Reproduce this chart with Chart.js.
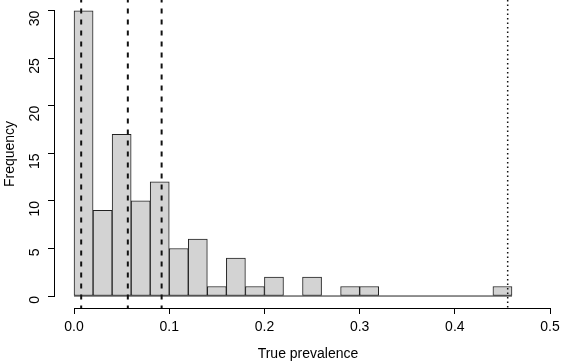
<!DOCTYPE html>
<html>
<head>
<meta charset="utf-8">
<script src="https://cdn.jsdelivr.net/npm/chart.js@4/dist/chart.umd.min.js"></script>
<style>
  html, body { margin: 0; padding: 0; background: #fff; }
  #wrap { width: 561px; height: 363px; }
</style>
</head>
<body>
<div id="wrap"><canvas id="monGraphique"></canvas></div>
<script>
// histogram of true prevalence, bins of width 0.02
const binStarts = [0, 0.02, 0.04, 0.06, 0.08, 0.10, 0.12, 0.14, 0.16, 0.18, 0.20, 0.22,
                   0.24, 0.26, 0.28, 0.30, 0.32, 0.34, 0.36, 0.38, 0.40, 0.42, 0.44];
const binWidth = 0.02;
const counts = [30, 9, 17, 10, 12, 5, 6, 1, 4, 1, 2, 0, 2, 0, 1, 1, 0, 0, 0, 0, 0, 0, 1];
const dashedLines = [0.0075, 0.0565, 0.092];
const dottedLine = 0.4555;
const xTicks = [0, 0.1, 0.2, 0.3, 0.4, 0.5];
const yTicks = [0, 5, 10, 15, 20, 25, 30];

const txt = '#000';
const font = { family: "'Liberation Sans', Arial, sans-serif", size: 14 };

const barData = binStarts.map((b, i) => ({ x: b + binWidth / 2, y: counts[i] }));
const vline = (x) => [{ x: x, y: -5 }, { x: x, y: 40 }];

// axis lines only over the tick range, like R's axis()
const axisLines = {
    id: 'axisLines',
    afterDraw(chart) {
        const c = chart.ctx, xs = chart.scales.x, ys = chart.scales.y;
        const yb = chart.chartArea.bottom, xl = chart.chartArea.left;
        c.save();
        c.strokeStyle = '#000';
        c.lineWidth = 1;
        c.beginPath();
        c.moveTo(xs.getPixelForValue(xTicks[0]), yb + 0.5);
        c.lineTo(xs.getPixelForValue(xTicks[xTicks.length - 1]), yb + 0.5);
        c.moveTo(xl - 0.5, ys.getPixelForValue(yTicks[0]));
        c.lineTo(xl - 0.5, ys.getPixelForValue(yTicks[yTicks.length - 1]));
        c.stroke();
        c.restore();
    }
};

const ctx = document.getElementById('monGraphique').getContext('2d');
new Chart(ctx, {
    type: 'bar',
    data: {
        datasets: [
            {
                type: 'bar',
                data: barData,
                backgroundColor: '#d3d3d3',
                borderColor: '#222',
                borderWidth: 1,
                borderSkipped: false,
                barPercentage: 1,
                categoryPercentage: 1,
                order: 2
            },
            {
                type: 'line',
                data: [{ x: binStarts[0], y: 0 }, { x: binStarts[binStarts.length - 1] + binWidth, y: 0 }],
                borderColor: '#222',
                borderWidth: 1,
                pointRadius: 0,
                order: 1
            },
            ...dashedLines.map(v => ({
                type: 'line',
                data: vline(v),
                borderColor: '#111',
                borderWidth: 2,
                borderDash: [5, 6],
                pointRadius: 0,
                order: 0
            })),
            {
                type: 'line',
                data: vline(dottedLine),
                borderColor: '#111',
                borderWidth: 1.5,
                borderDash: [1.5, 3],
                pointRadius: 0,
                order: 0
            }
        ]
    },
    options: {
        responsive: true,
        maintainAspectRatio: false,
        animation: false,
        layout: { padding: 0 },
        plugins: { legend: { display: false }, tooltip: { enabled: false } },
        scales: {
            x: {
                type: 'linear',
                offset: false,
                min: -0.02,
                max: 0.5115,
                afterBuildTicks: s => { s.ticks = xTicks.map(v => ({ value: v })); },
                afterFit: s => { s.height = 55; s.paddingLeft = 0; s.paddingRight = 0; },
                grid: { offset: false, drawOnChartArea: false, drawTicks: true, tickLength: 6, color: '#000', tickColor: '#000' },
                border: { display: false },
                ticks: {
                    color: txt, font: font, padding: 5, maxRotation: 0,
                    callback: v => v.toFixed(1)
                },
                title: { display: true, text: 'True prevalence', color: txt, font: font, padding: { top: 6, bottom: 0 } }
            },
            y: {
                type: 'linear',
                min: -1.26,
                max: 31.13,
                afterBuildTicks: s => { s.ticks = yTicks.map(v => ({ value: v })); },
                afterFit: s => { s.width = 55; s.paddingTop = 0; s.paddingBottom = 0; },
                grid: { drawOnChartArea: false, drawTicks: true, tickLength: 7, color: '#000', tickColor: '#000' },
                border: { display: false },
                ticks: { color: txt, font: font, padding: 13, minRotation: 90, maxRotation: 90 },
                title: { display: true, text: 'Frequency', color: txt, font: font, padding: { top: 2, bottom: 4 } }
            }
        }
    },
    plugins: [axisLines]
});
</script>
</body>
</html>
